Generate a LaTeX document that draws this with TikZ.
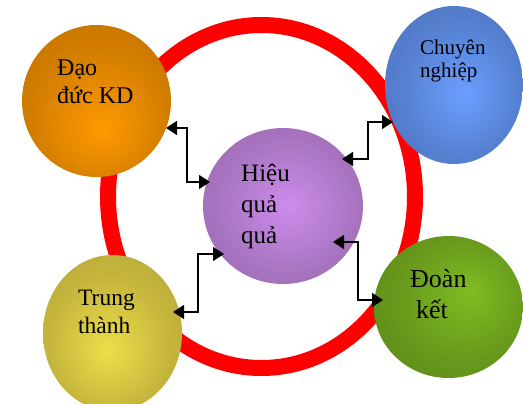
\documentclass[tikz,border=0pt]{standalone}
\usepackage{fontspec}
\setmainfont{Liberation Serif}
\usetikzlibrary{shapes.geometric,arrows.meta,calc}
\definecolor{oIn}{HTML}{FF9A00}\definecolor{oOut}{HTML}{BD6F00}
\definecolor{bIn}{HTML}{6A9EFF}\definecolor{bOut}{HTML}{4A6FB5}
\definecolor{pIn}{HTML}{CC8CEC}\definecolor{pOut}{HTML}{9466A8}
\definecolor{yIn}{HTML}{EEDD4A}\definecolor{yOut}{HTML}{ADA035}
\definecolor{gIn}{HTML}{80BC22}\definecolor{gOut}{HTML}{5A8518}
\colorlet{oMid}{oIn!35!oOut}\colorlet{bMid}{bIn!35!bOut}\colorlet{pMid}{pIn!35!pOut}
\colorlet{yMid}{yIn!35!yOut}\colorlet{gMid}{gIn!35!gOut}
\definecolor{ringred}{HTML}{FF0000}
\pgfdeclareradialshading{shOrange}{\pgfpoint{2bp}{-10bp}}{color(0bp)=(oIn); color(22bp)=(oMid); color(40bp)=(oOut); color(50bp)=(oOut)}
\pgfdeclareradialshading{shBlue}{\pgfpoint{4bp}{-3bp}}{color(0bp)=(bIn); color(22bp)=(bMid); color(40bp)=(bOut); color(50bp)=(bOut)}
\pgfdeclareradialshading{shPurple}{\pgfpoint{2bp}{0bp}}{color(0bp)=(pIn); color(22bp)=(pMid); color(40bp)=(pOut); color(50bp)=(pOut)}
\pgfdeclareradialshading{shOlive}{\pgfpoint{-2bp}{-6bp}}{color(0bp)=(yIn); color(22bp)=(yMid); color(40bp)=(yOut); color(50bp)=(yOut)}
\pgfdeclareradialshading{shGreen}{\pgfpoint{8bp}{5bp}}{color(0bp)=(gIn); color(22bp)=(gMid); color(40bp)=(gOut); color(50bp)=(gOut)}
\begin{document}
\begin{tikzpicture}[x=1pt,y=-1pt,
  bubble/.style={ellipse, inner sep=0pt, outer sep=0pt, draw=none},
  lbl/.style={anchor=base west, inner sep=0pt, text=black},
  conn/.style={line width=1.5pt, black, {Triangle[length=11pt,width=14pt]}-{Triangle[length=11pt,width=14pt]}}]
\useasboundingbox (0,0) rectangle (523,404);
\clip (0,0) rectangle (523,404);
% ring
\draw[ringred, line width=16pt] (261.5,196.5) ellipse [x radius=153.5, y radius=171.5];
% bubbles
\node[bubble, minimum width=149pt, minimum height=152pt, shading=shOrange] (dao) at (96.5,101) {};
\node[bubble, minimum width=138pt, minimum height=158pt, shading=shBlue] (chu) at (454,85) {};
\node[bubble, minimum width=160pt, minimum height=156pt, shading=shPurple] (hq) at (283,206) {};
\node[bubble, minimum width=139pt, minimum height=156pt, shading=shOlive] (trung) at (112.5,333) {};
\node[bubble, minimum width=149pt, minimum height=142pt, shading=shGreen] (doan) at (448.5,307) {};
% texts
\node[lbl, font=\fontsize{24}{28}\selectfont] (daoA) at (57,76) {Đạo};
\node[lbl, font=\fontsize{24}{28}\selectfont] (daoB) at (57,104) {đức KD};
\node[lbl, font=\fontsize{21}{25}\selectfont] (chuA) at (420,55) {Chuyên};
\node[lbl, font=\fontsize{21}{25}\selectfont] (chuB) at (420,78) {nghiệp};
\node[lbl, font=\fontsize{25}{30}\selectfont] (hqA) at (241,182) {Hiệu};
\node[lbl, font=\fontsize{25}{30}\selectfont] (hqB) at (241,212) {quả};
\node[lbl, font=\fontsize{25}{30}\selectfont] (hqC) at (241,243) {quả};
\node[lbl, font=\fontsize{23.5}{28}\selectfont] (trungA) at (78,305) {Trung};
\node[lbl, font=\fontsize{23.5}{28}\selectfont] (trungB) at (78,333) {thành};
\node[lbl, font=\fontsize{26}{31}\selectfont] (doanA) at (410,287) {Đoàn};
\node[lbl, font=\fontsize{26}{31}\selectfont] (doanB) at (416,318) {kết};
% bends
\coordinate (b1) at (187,182);
\coordinate (b2) at (368,122);
\coordinate (b3) at (358,300);
\coordinate (b4) at (198,254);
% connectors
\draw[conn] ([shift={(69.5,27)}]dao.center) -| (b1) -- ([shift={(-73,-24)}]hq.center);
\draw[conn] ([shift={(59,-47)}]hq.center) -| (b2) -- ([shift={(-61,37)}]chu.center);
\draw[conn] ([shift={(50,36)}]hq.center) -| (b3) -- ([shift={(-65.5,-7)}]doan.center);
\draw[conn] ([shift={(60.5,-21)}]trung.center) -| (b4) -- ([shift={(-59,48)}]hq.center);
\end{tikzpicture}
\end{document}
